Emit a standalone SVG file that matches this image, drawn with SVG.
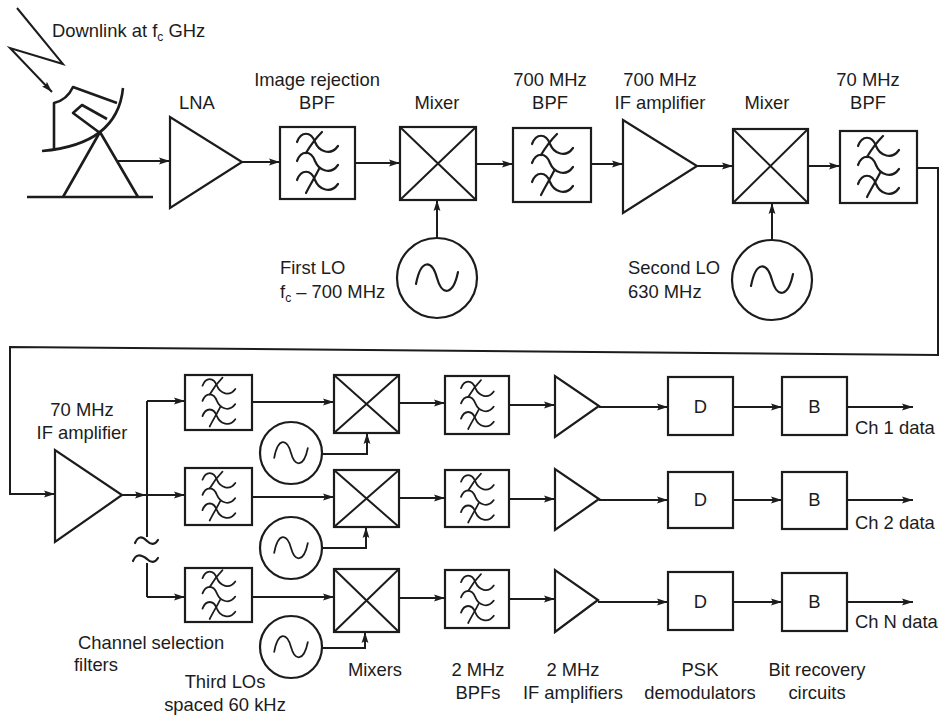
<svg xmlns="http://www.w3.org/2000/svg" width="943" height="715" viewBox="0 0 943 715">
  <style>
    .ln { fill: none; stroke: #1c1c1c; stroke-width: 2; stroke-linejoin: miter; }
    .bx { fill: #fff; stroke: #1c1c1c; stroke-width: 2.2; }
    .wv { fill: none; stroke: #1c1c1c; stroke-width: 2.2; stroke-linecap: round; }
    .ar { fill: none; stroke: #1c1c1c; stroke-width: 2; marker-end: url(#arrow); }
    .dish { fill: none; stroke: #1c1c1c; stroke-width: 2.6; stroke-linejoin: round; }
    text { font-family: "Liberation Sans", Arial, sans-serif; font-size: 18.4px; fill: #1c1c1c; }
    .c { text-anchor: middle; }
    .sub { font-size: 12px; }
  </style>
  <defs>
    <marker id="arrow" markerUnits="userSpaceOnUse" markerWidth="11" markerHeight="8" refX="11" refY="4" orient="auto">
      <path d="M0,0.6 L11,4 L0,7.4 L2,4 z" fill="#1c1c1c"/>
    </marker>
    <!-- band-pass filter glyph, centred on 0,0 -->
    <g id="bpf">
      <path class="wv" d="M-20,-21 C-16,-32 -6,-32 -2,-21 C2,-11 14,-7 21,-17"/>
      <path class="wv" d="M-20,-2 C-16,-13 -6,-13 -2,-2 C2,8 14,12 21,2"/>
      <path class="wv" d="M-20,17 C-16,6 -6,6 -2,17 C2,27 14,31 21,21"/>
      <path class="wv" d="M5,-31 Q-4,-22 -11,-10"/>
      <path class="wv" d="M2,6 C-2,14 -7,22 -11,30"/>
    </g>
    <!-- sine glyph of an oscillator, centred on 0,0 -->
    <path id="sine" class="wv" d="M-21,6 C-16,-20 -5,-18 0,0 S16,18 21,-6"/>
  </defs>

  <!-- connectors -->
  <g id="connectors">
    <polyline class="ar" points="17,8 63,64 10,48 52,92"/>
    <line class="ar" x1="118" y1="161" x2="170" y2="161"/>
    <line class="ar" x1="242" y1="162" x2="280" y2="162"/>
    <line class="ar" x1="355" y1="163" x2="400" y2="163"/>
    <line class="ar" x1="476" y1="164" x2="513" y2="164"/>
    <line class="ar" x1="591" y1="164" x2="623" y2="164"/>
    <line class="ar" x1="697" y1="166" x2="733" y2="166"/>
    <line class="ar" x1="808" y1="166" x2="840" y2="166"/>
    <line class="ar" x1="437" y1="238" x2="437" y2="200"/>
    <line class="ar" x1="772" y1="240" x2="772" y2="203"/>
    <polyline class="ar" points="917,168 938,168 938,355 10,347 10,494 55,494"/>

    <line class="ar" x1="122" y1="495" x2="146" y2="495"/>
    <polyline class="ln" points="147,401 147,537"/>
    <path class="wv" d="M135,543 C138,536 142,536 147,541 C151,545 155,545 158,540"/>
    <path class="wv" d="M133,561 C136,554 140,554 147,559 C151,563 155,563 158,558"/>
    <polyline class="ln" points="147,563 147,597"/>
    <line class="ar" x1="147" y1="401" x2="185" y2="401"/>
    <line class="ar" x1="147" y1="495" x2="185" y2="495"/>
    <line class="ar" x1="147" y1="597" x2="185" y2="597"/>

    <line class="ar" x1="252" y1="402" x2="334" y2="402"/>
    <line class="ar" x1="252" y1="497" x2="334" y2="497"/>
    <line class="ar" x1="252" y1="597" x2="334" y2="597"/>
    <polyline class="ar" points="322,454 367,454 367,433"/>
    <polyline class="ar" points="322,548 366,548 366,527"/>
    <polyline class="ar" points="322,648 365,648 365,632"/>
    <line class="ar" x1="399" y1="403" x2="445" y2="403"/>
    <line class="ar" x1="399" y1="498" x2="445" y2="498"/>
    <line class="ar" x1="399" y1="598" x2="445" y2="598"/>
    <line class="ar" x1="509" y1="405" x2="555" y2="405"/>
    <line class="ar" x1="509" y1="499" x2="555" y2="499"/>
    <line class="ar" x1="509" y1="599" x2="555" y2="599"/>
    <line class="ar" x1="599" y1="407" x2="668" y2="407"/>
    <line class="ar" x1="599" y1="500" x2="668" y2="500"/>
    <line class="ar" x1="598" y1="602" x2="668" y2="602"/>
    <line class="ar" x1="733" y1="407" x2="782" y2="407"/>
    <line class="ar" x1="733" y1="500" x2="782" y2="500"/>
    <line class="ar" x1="733" y1="602" x2="782" y2="602"/>
    <line class="ar" x1="847" y1="407" x2="913" y2="407"/>
    <line class="ar" x1="847" y1="500" x2="913" y2="500"/>
    <line class="ar" x1="847" y1="602" x2="913" y2="602"/>
  </g>

  <!-- receiving antenna -->
  <g id="antenna">
    <path class="dish" d="M123,88 Q117.5,144.5 42,151"/>
    <path class="dish" d="M54,151 L54,103 Q67,100 73,87 L117,103"/>
    <path class="dish" d="M107,119 L82,105 L73,113 L100,133"/>
    <path class="dish" d="M63,197 L100,132 L138,197"/>
    <path class="dish" d="M27,197 L153,197"/>
    <text x="52" y="37">Downlink at f<tspan class="sub" dy="4">c</tspan><tspan dy="-4"> GHz</tspan></text>
  </g>

  <g id="lna">
    <polygon class="bx" points="170,117 170,208 242,162"/>
    <text class="c" x="197" y="109">LNA</text>
  </g>
  <g id="image-bpf">
    <rect class="bx" x="280" y="127" width="75" height="72"/>
    <use href="#bpf" x="317" y="163"/>
    <text class="c" x="317" y="86">Image rejection</text>
    <text class="c" x="317" y="109">BPF</text>
  </g>
  <g id="mixer1">
    <rect class="bx" x="400" y="127" width="76" height="73"/>
    <path class="ln" d="M400,127 L476,200 M476,127 L400,200"/>
    <text class="c" x="437" y="109">Mixer</text>
  </g>
  <g id="lo1">
    <circle class="bx" cx="437" cy="278" r="40"/>
    <use href="#sine" x="437" y="278"/>
    <text x="280" y="274">First LO</text>
    <text x="280" y="298">f<tspan class="sub" dy="4">c</tspan><tspan dy="-4"> – 700 MHz</tspan></text>
  </g>
  <g id="bpf-700">
    <rect class="bx" x="513" y="128" width="78" height="74"/>
    <use href="#bpf" x="552" y="165"/>
    <text class="c" x="550" y="86">700 MHz</text>
    <text class="c" x="550" y="109">BPF</text>
  </g>
  <g id="if-amp-700">
    <polygon class="bx" points="623,120 623,213 697,166"/>
    <text class="c" x="660" y="86">700 MHz</text>
    <text class="c" x="660" y="109">IF amplifier</text>
  </g>
  <g id="mixer2">
    <rect class="bx" x="733" y="129" width="75" height="74"/>
    <path class="ln" d="M733,129 L808,203 M808,129 L733,203"/>
    <text class="c" x="767" y="109">Mixer</text>
  </g>
  <g id="lo2">
    <circle class="bx" cx="772" cy="280" r="40"/>
    <use href="#sine" x="772" y="280"/>
    <text x="628" y="274">Second LO</text>
    <text x="628" y="298">630 MHz</text>
  </g>
  <g id="bpf-70">
    <rect class="bx" x="840" y="131" width="77" height="72"/>
    <use href="#bpf" x="878" y="167"/>
    <text class="c" x="868" y="86">70 MHz</text>
    <text class="c" x="868" y="109">BPF</text>
  </g>

  <g id="if-amp-70">
    <polygon class="bx" points="55,450 55,542 122,495"/>
    <text class="c" x="82" y="416">70 MHz</text>
    <text class="c" x="82" y="439">IF amplifier</text>
  </g>

  <!-- channel selection filters -->
  <g id="chfilter1">
    <rect class="bx" x="185" y="375" width="67" height="55"/>
    <use href="#bpf" transform="translate(218.5,402.5) scale(0.8)"/>
  </g>
  <g id="chfilter2">
    <rect class="bx" x="185" y="468" width="67" height="57"/>
    <use href="#bpf" transform="translate(218.5,496.5) scale(0.8)"/>
  </g>
  <g id="chfilterN">
    <rect class="bx" x="185" y="568" width="67" height="54"/>
    <use href="#bpf" transform="translate(218.5,595) scale(0.8)"/>
  </g>
  <text x="78" y="649">Channel selection</text>
  <text x="74" y="671">filters</text>

  <!-- third local oscillators -->
  <g id="lo3-1">
    <circle class="bx" cx="291" cy="453" r="31"/>
    <use href="#sine" transform="translate(291,453) scale(0.8)"/>
  </g>
  <g id="lo3-2">
    <circle class="bx" cx="291" cy="548" r="31"/>
    <use href="#sine" transform="translate(291,548) scale(0.8)"/>
  </g>
  <g id="lo3-N">
    <circle class="bx" cx="291" cy="647" r="31"/>
    <use href="#sine" transform="translate(291,647) scale(0.8)"/>
  </g>
  <text class="c" x="225" y="688">Third LOs</text>
  <text class="c" x="225" y="711">spaced 60 kHz</text>

  <!-- channel mixers -->
  <g id="mixer3-1">
    <rect class="bx" x="334" y="375" width="65" height="58"/>
    <path class="ln" d="M334,375 L399,433 M399,375 L334,433"/>
  </g>
  <g id="mixer3-2">
    <rect class="bx" x="334" y="470" width="65" height="57"/>
    <path class="ln" d="M334,470 L399,527 M399,470 L334,527"/>
  </g>
  <g id="mixer3-N">
    <rect class="bx" x="334" y="569" width="65" height="63"/>
    <path class="ln" d="M334,569 L399,632 M399,569 L334,632"/>
  </g>
  <text class="c" x="375" y="676">Mixers</text>

  <!-- 2 MHz band-pass filters -->
  <g id="bpf2-1">
    <rect class="bx" x="445" y="376" width="64" height="58"/>
    <use href="#bpf" transform="translate(477,405) scale(0.8)"/>
  </g>
  <g id="bpf2-2">
    <rect class="bx" x="445" y="470" width="64" height="57"/>
    <use href="#bpf" transform="translate(477,498.5) scale(0.8)"/>
  </g>
  <g id="bpf2-N">
    <rect class="bx" x="445" y="570" width="64" height="58"/>
    <use href="#bpf" transform="translate(477,599) scale(0.8)"/>
  </g>
  <text class="c" x="478" y="676">2 MHz</text>
  <text class="c" x="478" y="699">BPFs</text>

  <!-- 2 MHz IF amplifiers -->
  <g id="ifamp2-1"><polygon class="bx" points="555,376 555,437 599,406"/></g>
  <g id="ifamp2-2"><polygon class="bx" points="555,469 555,530 599,499"/></g>
  <g id="ifamp2-N"><polygon class="bx" points="555,570 555,632 598,600"/></g>
  <text class="c" x="573" y="676">2 MHz</text>
  <text class="c" x="573" y="699">IF amplifiers</text>

  <!-- PSK demodulators -->
  <g id="demod-1">
    <rect class="bx" x="668" y="377" width="65" height="58"/>
    <text class="c" x="700.5" y="413">D</text>
  </g>
  <g id="demod-2">
    <rect class="bx" x="668" y="472" width="65" height="56"/>
    <text class="c" x="700.5" y="506">D</text>
  </g>
  <g id="demod-N">
    <rect class="bx" x="668" y="572" width="65" height="58"/>
    <text class="c" x="700.5" y="608">D</text>
  </g>
  <text class="c" x="700" y="676">PSK</text>
  <text class="c" x="700" y="699">demodulators</text>

  <!-- bit recovery circuits -->
  <g id="bitrec-1">
    <rect class="bx" x="782" y="377" width="65" height="58"/>
    <text class="c" x="814.5" y="413">B</text>
    <text x="855" y="434">Ch 1 data</text>
  </g>
  <g id="bitrec-2">
    <rect class="bx" x="782" y="472" width="65" height="57"/>
    <text class="c" x="814.5" y="506">B</text>
    <text x="855" y="529">Ch 2 data</text>
  </g>
  <g id="bitrec-N">
    <rect class="bx" x="782" y="573" width="65" height="58"/>
    <text class="c" x="814.5" y="608">B</text>
    <text x="855" y="628">Ch N data</text>
  </g>
  <text class="c" x="817" y="676">Bit recovery</text>
  <text class="c" x="817" y="699">circuits</text>
</svg>
